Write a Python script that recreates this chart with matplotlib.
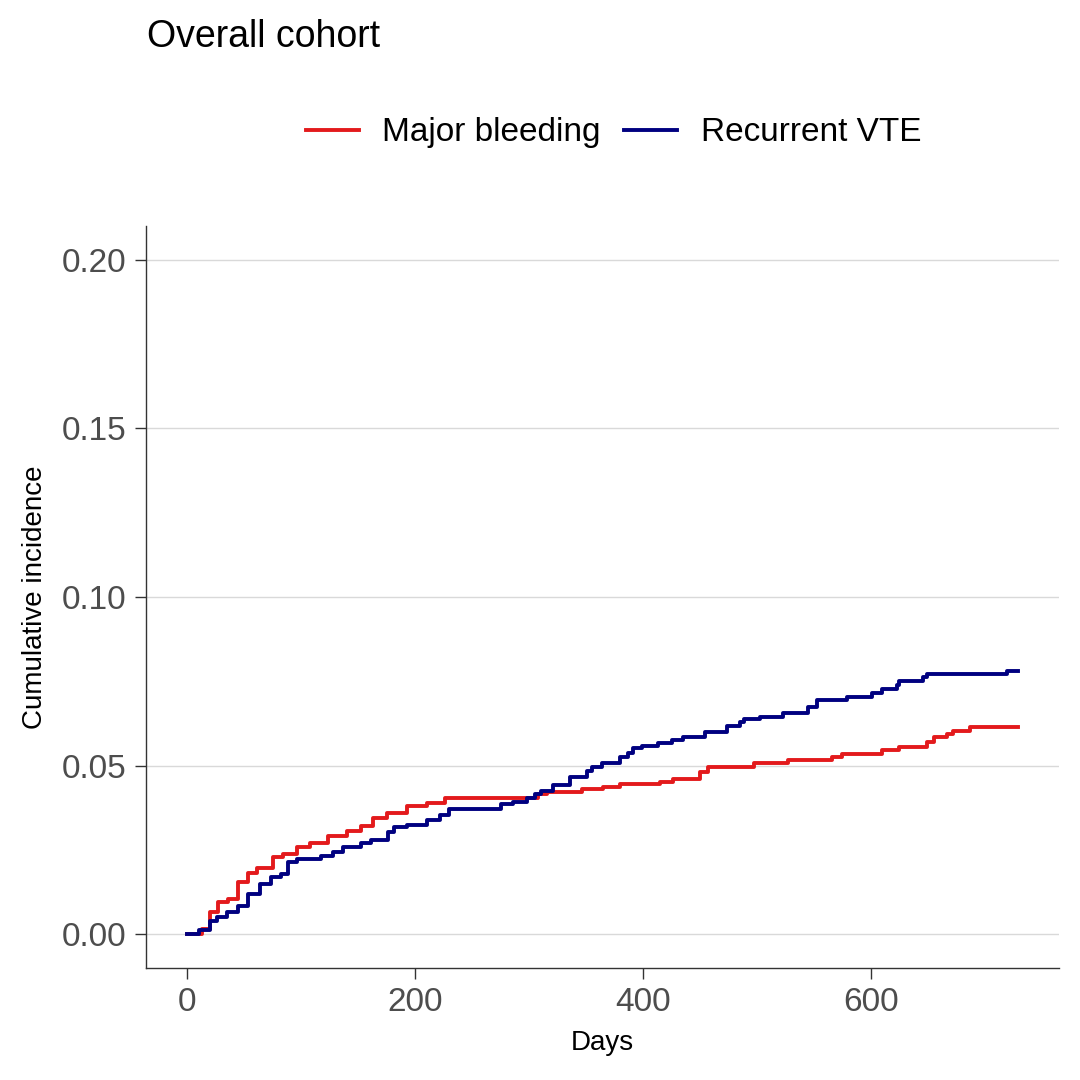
import matplotlib.pyplot as plt

plt.rcParams['font.family'] = ['Liberation Sans', 'DejaVu Sans']

# Cumulative incidence step curves (days, incidence)
bleed_days = [0, 13, 20, 27, 36, 44, 53, 61, 75, 84,
              96, 108, 123, 140, 152, 163, 175, 193, 210, 226,
              308, 316, 346, 365, 380, 415, 426, 450, 457, 497,
              527, 566, 575, 610, 625, 649, 655, 667, 672, 687,
              729]
bleed_inc = [0, 0.0015, 0.0065, 0.0095, 0.0104, 0.0154, 0.0183, 0.0198, 0.0228, 0.0237,
             0.026, 0.0272, 0.029, 0.0305, 0.032, 0.0346, 0.0361, 0.0379, 0.039, 0.0405,
             0.0417, 0.0423, 0.043, 0.0438, 0.0447, 0.0453, 0.046, 0.048, 0.0497, 0.0508,
             0.0518, 0.0527, 0.0536, 0.0545, 0.0556, 0.0571, 0.0585, 0.0595, 0.0604, 0.0615,
             0.0615]

vte_days = [0, 10, 20, 26, 35, 44, 53, 64, 73, 82,
            88, 96, 117, 128, 137, 152, 161, 176, 181, 193,
            210, 222, 230, 275, 286, 298, 305, 310, 321, 336,
            351, 355, 364, 380, 387, 391, 399, 413, 425, 435,
            454, 474, 485, 489, 503, 523, 545, 553, 579, 601,
            610, 623, 625, 646, 649, 719, 729]
vte_inc = [0, 0.0013, 0.0038, 0.005, 0.0065, 0.0083, 0.0118, 0.0148, 0.0169, 0.0178,
           0.0213, 0.0222, 0.0231, 0.0243, 0.026, 0.0272, 0.0281, 0.0302, 0.0317, 0.0325,
           0.034, 0.0355, 0.037, 0.0385, 0.0393, 0.0405, 0.0417, 0.0426, 0.0444, 0.0467,
           0.0485, 0.0497, 0.0509, 0.0527, 0.0538, 0.0553, 0.0559, 0.0568, 0.0577, 0.0586,
           0.0601, 0.0618, 0.063, 0.0639, 0.0645, 0.0657, 0.0675, 0.0695, 0.0704, 0.0716,
           0.0728, 0.074, 0.0751, 0.0763, 0.0772, 0.0781, 0.0781]

x_ticks = [0, 200, 400, 600]
y_ticks = [0.00, 0.05, 0.10, 0.15, 0.20]

fig = plt.figure(figsize=(10.8, 10.8), dpi=100)
ax = fig.add_axes([0.135, 0.1037, 0.846, 0.687])

for y in y_ticks:
    ax.axhline(y, color='#d9d9d9', lw=1.0, zorder=0)

ax.step(bleed_days, bleed_inc, where='post', color='#e31a1c', lw=2.8, label='Major bleeding')
ax.step(vte_days, vte_inc, where='post', color='#000080', lw=2.8, label='Recurrent VTE')

ax.set_xlim(-36.5, 765.5)
ax.set_ylim(-0.01, 0.21)
ax.set_xticks(x_ticks)
ax.set_yticks(y_ticks)
ax.set_yticklabels([f'{v:.2f}' for v in y_ticks])

for s in ['top', 'right']:
    ax.spines[s].set_visible(False)
for s in ['left', 'bottom']:
    ax.spines[s].set_color('#333333')
    ax.spines[s].set_linewidth(1.0)
ax.tick_params(axis='both', labelsize=24, labelcolor='#4d4d4d', color='#333333',
               length=8, width=1.0, pad=6)

ax.set_xlabel('Days', fontsize=20, labelpad=8)
ax.set_ylabel('Cumulative incidence', fontsize=20, labelpad=10)

fig.text(0.136, 0.966, 'Overall cohort', fontsize=27, va='center', ha='left')

fig.legend(loc='center', bbox_to_anchor=(0.568, 0.877), ncol=2, frameon=False,
           fontsize=24, handlelength=1.6, handletextpad=0.7, columnspacing=0.7)

plt.savefig('out.png', dpi=100)
